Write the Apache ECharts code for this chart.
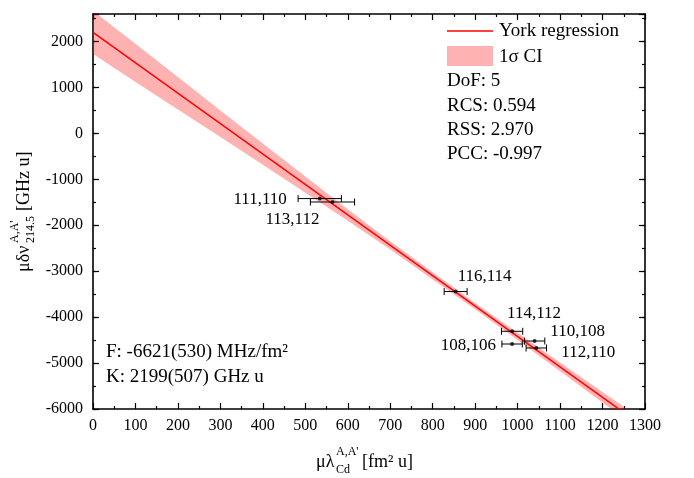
<!DOCTYPE html>
<html lang="en">
<head>
    <meta charset="UTF-8">
    <title>York regression</title>
    <script src="https://cdn.jsdelivr.net/npm/echarts@6/dist/echarts.min.js"></script>
    <style>
        html, body { margin: 0; padding: 0; background: #fff; }
        #chart1 { width: 694px; height: 478px; }
    </style>
</head>
<body>
<div id="chart1"></div>
<script type="text/javascript">
    // data
    var pointNames = ['111,110', '113,112', '116,114', '114,112', '108,106', '110,108', '112,110'];
    var pointX = [534, 564, 854, 987, 987, 1040, 1044];
    var pointY = [-1419, -1493, -3443, -4308, -4585, -4520, -4672];
    var pointErr = [51, 52, 27, 25, 24, 24, 24];

    // regression line (K = 2199, F = -6621 MHz/fm^2)
    var lineX = [0, 1300];
    var lineY = [2199, -6408];

    // 1 sigma band edges
    var bandX = [0, 100, 200, 300, 400, 500, 600, 700, 800, 900, 1000, 1100, 1200, 1300];
    var bandHigh = [2670, 1950, 1230, 500, -220, -940, -1650, -2350, -3020, -3690, -4340, -4990, -5630, -6270];
    var bandLow = [1730, 1120, 520, -80, -680, -1290, -1900, -2530, -3180, -3830, -4500, -5180, -5860, -6550];

    // label placement next to each point (pixels)
    var labelOffsets = [[-33, 1], [-40, 18], [29, -15], [22, -18], [-16, 2], [43, -9], [52, 5]];
    var labelAligns = ['right', 'center', 'center', 'center', 'right', 'center', 'center'];

    var FONT = 'Liberation Serif';

    var myChart1 = echarts.init(document.getElementById('chart1'));

    function xAx(pos, labels) {
        return {
            type: 'value', position: pos, min: 0, max: 1300, interval: 100,
            axisLine: {show: true, onZero: false, lineStyle: {color: '#000', width: 1.6}},
            axisTick: {show: true, inside: true, length: 6, lineStyle: {color: '#000', width: 1.2}},
            minorTick: {show: true, splitNumber: 2, length: 3, lineStyle: {color: '#000', width: 1.2}},
            axisLabel: {
                show: labels, color: '#000', fontFamily: FONT, fontSize: 16, margin: 9,
                formatter: function (v) { return String(v); }
            },
            splitLine: {show: false}
        };
    }

    function yAx(pos, step, len, labels, line) {
        return {
            type: 'value', position: pos, min: -6000, max: 2600, interval: step,
            axisLine: {show: line, onZero: false, lineStyle: {color: '#000', width: 1.6}},
            axisTick: {show: true, inside: true, length: len, lineStyle: {color: '#000', width: 1.2}},
            axisLabel: {
                show: labels, color: '#000', fontFamily: FONT, fontSize: 16, margin: 10,
                formatter: function (v) { return v > 2000 ? '' : String(v); }
            },
            splitLine: {show: false}
        };
    }

    var scatterData = pointX.map(function (x, i) {
        return {
            value: [x, pointY[i]],
            label: {offset: labelOffsets[i], align: labelAligns[i]}
        };
    });
    var errData = pointX.map(function (x, i) { return [x, pointY[i], pointErr[i]]; });
    var lineData = lineX.map(function (x, i) { return [x, lineY[i]]; });

    var txt = function (s, x, y, size) {
        return {
            type: 'text', z: 10,
            style: {
                text: s, x: x, y: y, font: size + 'px "' + FONT + '"', fill: '#000',
                align: 'left', verticalAlign: 'middle'
            }
        };
    };

    myChart1.setOption({
        animation: false,
        grid: {left: 93, right: 49, top: 14, bottom: 69},
        xAxis: [xAx('bottom', true), xAx('top', false)],
        yAxis: [yAx('left', 1000, 6, true, true), yAx('left', 500, 3, false, false),
            yAx('right', 1000, 6, false, true), yAx('right', 500, 3, false, false)],
        series: [
            {
                type: 'custom', xAxisIndex: 0, yAxisIndex: 0, clip: true, silent: true, z: 1,
                data: [[0, 0]],
                renderItem: function (params, api) {
                    var pts = [];
                    for (var i = 0; i < bandX.length; i++) pts.push(api.coord([bandX[i], bandHigh[i]]));
                    for (var j = bandX.length - 1; j >= 0; j--) pts.push(api.coord([bandX[j], bandLow[j]]));
                    return {type: 'polygon', shape: {points: pts}, style: {fill: 'rgba(255,0,0,0.3)'}};
                }
            },
            {
                type: 'line', data: lineData, symbol: 'none', clip: true, z: 2,
                lineStyle: {color: '#ff0000', width: 1.5}
            },
            {
                type: 'custom', data: errData, z: 3, silent: true,
                renderItem: function (params, api) {
                    var x = api.value(0), y = api.value(1), e = api.value(2);
                    var a = api.coord([x - e, y]), b = api.coord([x + e, y]);
                    var st = {stroke: '#000', lineWidth: 1};
                    return {
                        type: 'group', children: [
                            {type: 'line', shape: {x1: a[0], y1: a[1], x2: b[0], y2: b[1]}, style: st},
                            {type: 'line', shape: {x1: a[0], y1: a[1] - 3.5, x2: a[0], y2: a[1] + 3.5}, style: st},
                            {type: 'line', shape: {x1: b[0], y1: b[1] - 3.5, x2: b[0], y2: b[1] + 3.5}, style: st}
                        ]
                    };
                }
            },
            {
                type: 'scatter', data: scatterData, symbol: 'circle', symbolSize: 4, z: 4,
                itemStyle: {color: '#000'},
                label: {
                    show: true, position: 'inside', verticalAlign: 'middle',
                    color: '#000', textBorderWidth: 0, opacity: 1,
                    fontFamily: FONT, fontSize: 17,
                    formatter: function (p) { return pointNames[p.dataIndex]; }
                }
            }
        ],
        graphic: [
            // legend
            {type: 'line', shape: {x1: 447, y1: 31, x2: 493, y2: 31}, style: {stroke: '#ff0000', lineWidth: 1.5}, z: 10},
            txt('York regression', 499, 31, 19),
            {type: 'rect', shape: {x: 447, y: 46, width: 46, height: 20}, style: {fill: 'rgba(255,0,0,0.3)'}, z: 10},
            txt('1σ CI', 499, 57, 19),
            txt('DoF: 5', 447, 81, 19),
            txt('RCS: 0.594', 447, 106, 19),
            txt('RSS: 2.970', 447, 130, 19),
            txt('PCC: -0.997', 447, 154, 19),
            txt('F: -6621(530) MHz/fm²', 106, 352, 19),
            txt('K: 2199(507) GHz u', 106, 377, 19),
            // x axis title
            txt('μλ', 316, 462, 18),
            txt("A,A'", 336, 452, 12),
            txt('Cd', 336, 470, 12),
            txt('[fm² u]', 362, 462, 18),
            // y axis title
            {
                type: 'group', x: 24, y: 272, rotation: Math.PI / 2,
                children: [
                    txt('μδν', 0, 0, 18),
                    txt("A,A'", 29, -9, 12),
                    txt('214.5', 29, 7, 12),
                    txt('[GHz u]', 61, 0, 18)
                ]
            }
        ]
    });
</script>
</body>
</html>
